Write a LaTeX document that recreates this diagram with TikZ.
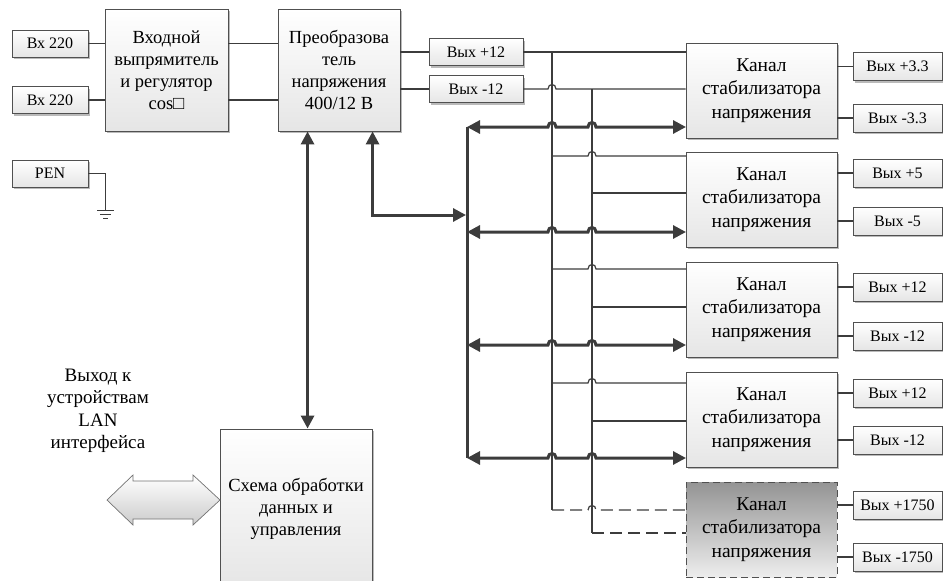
\documentclass[tikz,border=0pt]{standalone}
\usepackage{fontspec}
\setmainfont{Liberation Serif}
\usetikzlibrary{arrows.meta,shadows,calc}
\definecolor{ln}{HTML}{3C3C3C}
\definecolor{bd}{HTML}{505050}
\newcommand\hopat[2]{-- ({#1-4},#2) .. controls ({#1-4},{#2-6}) and ({#1+4},{#2-6}) .. ({#1+4},#2)}
\tikzset{
  box/.style={draw=bd, line width=0.9pt, top color=white, bottom color=black!10, inner sep=0pt, align=center,
    drop shadow={shadow xshift=2pt, shadow yshift=-2pt, fill=black!45, opacity=0.6}},
  chdash/.style={draw=bd, line width=0.9pt, dash pattern=on 7pt off 4pt, top color=black!42, bottom color=black!7, inner sep=0pt, align=center},
  blocktext/.style={font=\fontsize{18.5}{22}\selectfont},
  chantext/.style={font=\fontsize{19.5}{23.5}\selectfont},
  lbl/.style={font=\fontsize{16}{18}\selectfont},
  small/.style={minimum width=76pt, minimum height=27pt},
  mid/.style={minimum width=94pt, minimum height=27pt},
  outb/.style={minimum width=89pt, minimum height=28pt},
  chan/.style={minimum width=151pt, minimum height=95pt},
  wire/.style={draw=ln, line width=1.2pt},
  dashw/.style={wire, dash pattern=on 12pt off 6pt},
  bus/.style={draw=ln, line width=3pt},
  dbl/.style={bus, arrows={Triangle[length=13pt,width=13pt]-Triangle[length=13pt,width=13pt]}},
}
\begin{document}
\begin{tikzpicture}[x=1pt,y=-1pt]
\useasboundingbox (0,0) rectangle (943,581);
% left inputs
\node[box,lbl,small] (vx1) at (50,43.5) {Вх 220};
\node[box,lbl,small] (vx2) at (50,100) {Вх 220};
\node[box,lbl,small] (pen) at (50,173.5) {PEN};
% main blocks
\node[box,blocktext,minimum width=123pt,minimum height=122pt] (vhod) at (166.5,70) {Входной\\выпрямитель\\и регулятор\\cos□};
\node[box,blocktext,minimum width=122pt,minimum height=122pt] (preob) at (339,70) {Преобразова\\тель\\напряжения\\400/12 В};
\node[box,lbl,mid] (o1) at (476,52) {Вых +12};
\node[box,lbl,mid] (o2) at (476,89) {Вых -12};
\node[box,blocktext,minimum width=152pt,minimum height=160pt] (schema) at (296,509) {Схема обработки\\данных и\\управления};
\node[align=center,font=\fontsize{19}{22.5}\selectfont] (lan) at (98,411) {Выход к\\устройствам\\LAN\\интерфейса};
% channels
\node[box,chantext,chan] (ch1) at (761.5,90.5) {Канал\\стабилизатора\\напряжения};
\node[box,chantext,chan] (ch2) at (761.5,199.5) {Канал\\стабилизатора\\напряжения};
\node[box,chantext,chan] (ch3) at (761.5,309.5) {Канал\\стабилизатора\\напряжения};
\node[box,chantext,chan] (ch4) at (761.5,419.5) {Канал\\стабилизатора\\напряжения};
\node[chdash,chantext,chan] (ch5) at (761.5,529.5) {Канал\\стабилизатора\\напряжения};
% outputs
\node[box,lbl,outb] (q1a) at (897.5,66.5) {Вых +3.3};
\node[box,lbl,outb] (q1b) at (897.5,118) {Вых -3.3};
\node[box,lbl,outb] (q2a) at (897.5,173) {Вых +5};
\node[box,lbl,outb] (q2b) at (897.5,221) {Вых -5};
\node[box,lbl,outb] (q3a) at (897.5,287) {Вых +12};
\node[box,lbl,outb] (q3b) at (897.5,336) {Вых -12};
\node[box,lbl,outb] (q4a) at (897.5,393) {Вых +12};
\node[box,lbl,outb] (q4b) at (897.5,440) {Вых -12};
\node[box,lbl,outb] (q5a) at (897.5,505) {Вых +1750};
\node[box,lbl,outb] (q5b) at (897.5,557) {Вых -1750};
\foreach \c/\a/\b in {ch1/q1a/q1b,ch2/q2a/q2b,ch3/q3a/q3b,ch4/q4a/q4b,ch5/q5a/q5b}{
  \draw[wire] (\c.east |- \a) -- (\a);
  \draw[wire] (\c.east |- \b) -- (\b);
}
% input wiring
\draw[wire] (vx1) -- (vhod.west |- vx1);
\draw[wire] (vx2) -- (vhod.west |- vx2);
\draw[wire] (vhod.east |- vx1) -- (preob.west |- vx1);
\draw[wire] (vhod.east |- vx2) -- (preob.west |- vx2);
\draw[wire] (preob.east |- o1) -- (o1);
\draw[wire] (preob.east |- o2) -- (o2);
% ground
\coordinate (g) at (105,210);
\draw[wire,line width=1pt] (pen) -| (g);
\draw[wire,line width=1pt] (97,210) -- (114,210) (100,214) -- (111,214) (103,218) -- (108,218);
% distribution wires
\draw[wire] (o1) -- (ch1.west |- o1);
\draw[wire] (o2.east) \hopat{552}{89} -- (ch1.west |- o2);
\coordinate (j1) at (552,52);
\coordinate (j2) at (592,89);
\draw[wire] (j1) -- (552,510);
\draw[wire] (j2) -- (592,533);
\foreach \ya/\yb in {156/193,269/307,383/421}{
  \draw[wire] (552,\ya) \hopat{592}{\ya} -- (686,\ya);
  \draw[wire] (592,\yb) -- (686,\yb);
}
\draw[dashw] (552,510) \hopat{592}{510} -- (686,510);
\draw[dashw] (592,533) -- (686,533);
% thick bus
\draw[bus] (467,127) -- (467,458);
\foreach \y in {127,232,345,458}
  \draw[dbl] (467,\y) \hopat{552}{\y} \hopat{592}{\y} -- (686,\y);
\coordinate (pb) at ($(preob.south west)+(95,0)$);
\draw[dbl] (pb) |- (466,215);
\coordinate (pa) at ($(preob.south west)+(30,0)$);
\draw[dbl] (pa) -- (pa |- schema.north);
% LAN hollow double arrow
\draw[draw=black!55, line width=0.7pt, top color=white, bottom color=black!20]
  (107,500) -- (133,475) -- (133,481) -- (193,481) -- (193,475) -- (220,500)
  -- (193,525) -- (193,519) -- (133,519) -- (133,525) -- cycle;
\end{tikzpicture}
\end{document}
